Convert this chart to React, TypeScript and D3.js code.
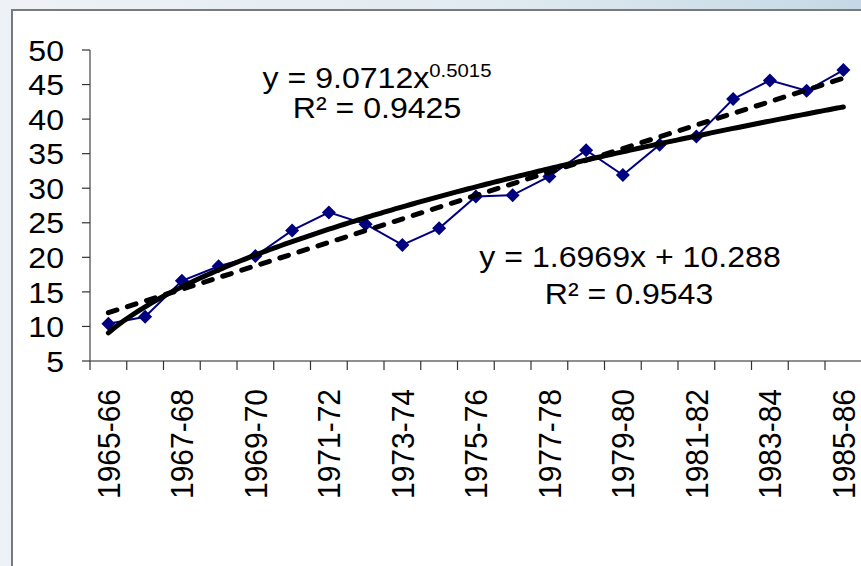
import React from "react";
import * as d3 from "d3";

// Fiscal-year categories and observed values
const categories = [
  "1965-66", "1966-67", "1967-68", "1968-69", "1969-70", "1970-71", "1971-72",
  "1972-73", "1973-74", "1974-75", "1975-76", "1976-77", "1977-78", "1978-79",
  "1979-80", "1980-81", "1981-82", "1982-83", "1983-84", "1984-85", "1985-86",
];
const values = [
  10.4, 11.4, 16.6, 18.7, 20.2, 23.9, 26.5, 24.8, 21.8, 24.2, 28.8,
  29.0, 31.7, 35.5, 31.9, 36.3, 37.5, 42.9, 45.6, 44.1, 47.1,
];
const yTickValues = [5, 10, 15, 20, 25, 30, 35, 40, 45, 50];

// Fitted trend lines (x = 1 .. n)
const linearFit = { slope: 1.6969, intercept: 10.288, label: "y = 1.6969x + 10.288", r2: "R² = 0.9543" };
const powerFit = { coef: 9.0712, exponent: 0.5015, label: "y = 9.0712x", sup: "0.5015", r2: "R² = 0.9425" };

const W = 861;
const H = 566;
const FONT = "'Liberation Sans', Arial, Helvetica, sans-serif";
const FS = 30;
const SX = 1.07;

export default function App() {
  const x = d3
    .scaleBand<string>()
    .domain(categories)
    .range([90, 90 + 36.75 * categories.length])
    .padding(0);
  const bw = x.bandwidth();
  const cx = (c: string) => (x(c) as number) + bw / 2;
  const y = d3.scaleLinear().domain([5, 50]).range([361, 50]);
  const n = categories.length;
  const xi = d3.scaleLinear().domain([1, n]).range([cx(categories[0]), cx(categories[n - 1])]);

  const seriesPath = d3
    .line<number>()
    .x((_, i) => cx(categories[i]))
    .y((d) => y(d))(values) as string;

  const linPath = d3
    .line<number>()
    .x((t) => xi(t))
    .y((t) => y(linearFit.slope * t + linearFit.intercept))([1, n]) as string;

  const ts = d3.range(1, n + 0.0001, 0.1);
  const powPath = d3
    .line<number>()
    .x((t) => xi(t))
    .y((t) => y(powerFit.coef * Math.pow(t, powerFit.exponent)))(ts) as string;

  const ticksX = d3.range(0, n + 1).map((k) => 90 + k * bw);
  const d = 7;
  const diamond = `M0,${-d}L${d},0L0,${d}L${-d},0Z`;

  return (
    <svg
      width={W}
      height={H}
      style={{ position: "absolute", left: 0, top: 0, display: "block" }}
      fontFamily={FONT}
    >
      <defs>
        <linearGradient id="bgGrad" x1="0" y1="0" x2="1" y2="0">
          <stop offset="0" stopColor="#eef2f6" />
          <stop offset="0.55" stopColor="#e2ebf1" />
          <stop offset="1" stopColor="#c4d9e5" />
        </linearGradient>
      </defs>
      <rect x={0} y={0} width={W} height={H} fill="url(#bgGrad)" />
      <rect x={12} y={10} width={W} height={H} fill="#ffffff" stroke="#7a7a7a" strokeWidth={2} />

      {/* y axis */}
      <line x1={90} x2={90} y1={y(50)} y2={y(5)} stroke="#6a6a6a" strokeWidth={1.5} />
      {yTickValues.map((v) => (
        <g key={v}>
          <line x1={82} x2={90} y1={y(v)} y2={y(v)} stroke="#333" strokeWidth={1.2} />
          <g transform={`translate(64,${y(v)}) scale(${SX},1)`}>
            <text textAnchor="end" dy="0.355em" fontSize={FS} fill="#000">
              {v}
            </text>
          </g>
        </g>
      ))}

      {/* x axis */}
      <line x1={90} x2={ticksX[n]} y1={y(5)} y2={y(5)} stroke="#6a6a6a" strokeWidth={1.5} />
      {ticksX.map((tx, k) => (
        <line key={k} x1={tx} x2={tx} y1={y(5)} y2={y(5) + 9} stroke="#333" strokeWidth={1.2} />
      ))}
      {categories.map((c, i) =>
        i % 2 === 0 ? (
          <g key={c} transform={`translate(${cx(c)},389) scale(${SX},1) rotate(-90)`}>
            <text textAnchor="end" dy="0.355em" fontSize={FS} fill="#000">
              {c}
            </text>
          </g>
        ) : null
      )}

      {/* data series */}
      <path d={seriesPath} fill="none" stroke="#000080" strokeWidth={2} />
      {values.map((v, i) => (
        <path key={i} d={diamond} transform={`translate(${cx(categories[i])},${y(v)})`} fill="#000080" />
      ))}

      {/* trend lines */}
      <path d={linPath} fill="none" stroke="#000" strokeWidth={5} strokeDasharray="9 11" strokeLinecap="round" />
      <path d={powPath} fill="none" stroke="#000" strokeWidth={5} strokeLinecap="round" strokeLinejoin="round" />

      {/* equations */}
      <g transform={`translate(377,87.5) scale(${SX},1)`}>
        <text textAnchor="middle" fontSize={FS} fill="#000">
          {powerFit.label}
          <tspan fontSize={19} dy={-11}>
            {powerFit.sup}
          </tspan>
        </text>
      </g>
      <g transform={`translate(377,117.5) scale(${SX},1)`}>
        <text textAnchor="middle" fontSize={FS} fill="#000">
          {powerFit.r2}
        </text>
      </g>
      <g transform={`translate(630,266.5) scale(${SX},1)`}>
        <text textAnchor="middle" fontSize={FS} fill="#000">
          {linearFit.label}
        </text>
      </g>
      <g transform={`translate(629,304) scale(${SX},1)`}>
        <text textAnchor="middle" fontSize={FS} fill="#000">
          {linearFit.r2}
        </text>
      </g>
    </svg>
  );
}
